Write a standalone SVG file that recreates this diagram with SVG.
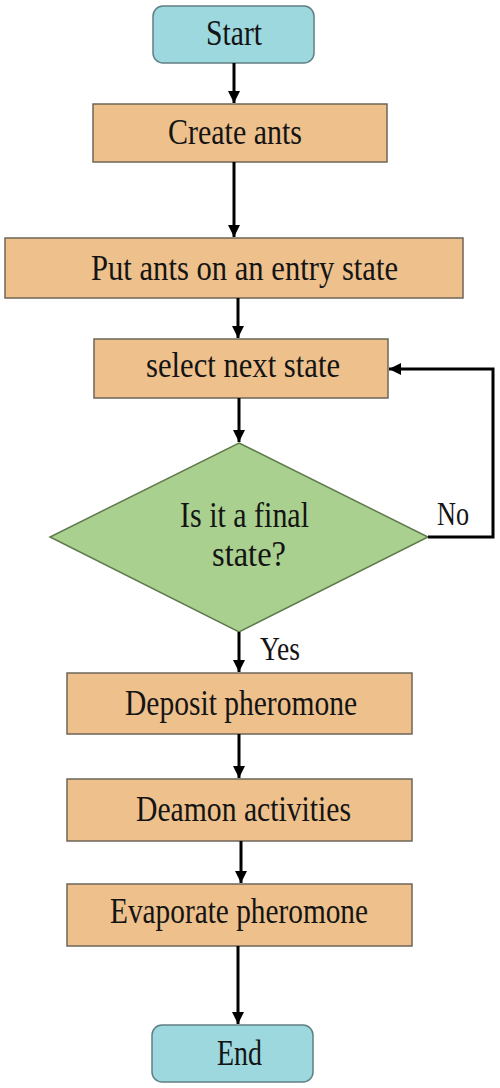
<svg xmlns="http://www.w3.org/2000/svg" width="500" height="1088" viewBox="0 0 500 1088">
<style>
.term{fill:#9dd8de;stroke:#5f7f84;stroke-width:1.5}
.proc{fill:#edc08c;stroke:#6e6558;stroke-width:1.5}
.dec{fill:#a9d08e;stroke:#5e7a4c;stroke-width:1.5}
.t{font-family:"Liberation Serif","Times New Roman",serif;font-size:35px;fill:#141414}
.lbl{font-family:"Liberation Serif","Times New Roman",serif;font-size:33px;fill:#141414}
.c{fill:none;stroke:#000;stroke-width:3}
</style>
<defs>
<marker id="ah" viewBox="0 0 10 10" refX="10" refY="5" markerWidth="4.3" markerHeight="4" markerUnits="strokeWidth" orient="auto">
<path d="M0,0 L10,5 L0,10 z" fill="#000"/>
</marker>
</defs>
<g id="start"><rect class="term" x="153" y="6" width="161" height="57" rx="10"/><text class="t" x="206" y="45" textLength="56" lengthAdjust="spacingAndGlyphs">Start</text></g>
<g id="create"><rect class="proc" x="93" y="104" width="294" height="58"/><text class="t" x="168" y="144" textLength="134" lengthAdjust="spacingAndGlyphs">Create ants</text></g>
<g id="put"><rect class="proc" x="5" y="238" width="458" height="60"/><text class="t" x="91" y="280" textLength="307" lengthAdjust="spacingAndGlyphs">Put ants on an entry state</text></g>
<g id="select"><rect class="proc" x="94" y="339" width="294" height="59"/><text class="t" x="146" y="377" textLength="194" lengthAdjust="spacingAndGlyphs">select next state</text></g>
<g id="decision"><polygon class="dec" points="239,443 428,537 239,632 50,537"/><text class="t" x="180" y="527" textLength="129" lengthAdjust="spacingAndGlyphs">Is it a final</text><text class="t" x="212" y="566" textLength="74" lengthAdjust="spacingAndGlyphs">state?</text></g>
<g id="deposit"><rect class="proc" x="67" y="673" width="345" height="61"/><text class="t" x="125" y="715" textLength="232" lengthAdjust="spacingAndGlyphs">Deposit pheromone</text></g>
<g id="deamon"><rect class="proc" x="67" y="779" width="345" height="62"/><text class="t" x="136" y="821" textLength="215" lengthAdjust="spacingAndGlyphs">Deamon activities</text></g>
<g id="evaporate"><rect class="proc" x="67" y="884" width="345" height="62"/><text class="t" x="110" y="923" textLength="258" lengthAdjust="spacingAndGlyphs">Evaporate pheromone</text></g>
<g id="end"><rect class="term" x="152" y="1025" width="161" height="57" rx="10"/><text class="t" x="217" y="1065" textLength="45" lengthAdjust="spacingAndGlyphs">End</text></g>
<g id="connectors">
<path class="c" d="M234,63 V103" marker-end="url(#ah)"/>
<path class="c" d="M234,162 V237" marker-end="url(#ah)"/>
<path class="c" d="M238,298 V338" marker-end="url(#ah)"/>
<path class="c" d="M239,398 V442" marker-end="url(#ah)"/>
<path class="c" d="M239,632 V672" marker-end="url(#ah)"/>
<path class="c" d="M239,734 V778" marker-end="url(#ah)"/>
<path class="c" d="M241,841 V883" marker-end="url(#ah)"/>
<path class="c" d="M238,946 V1024" marker-end="url(#ah)"/>
<path class="c" d="M428,537 H493 V369 H389" marker-end="url(#ah)"/>
<text class="lbl" x="437" y="525" textLength="32" lengthAdjust="spacingAndGlyphs">No</text>
<text class="lbl" x="260" y="660" textLength="40" lengthAdjust="spacingAndGlyphs">Yes</text>
</g>
</svg>
